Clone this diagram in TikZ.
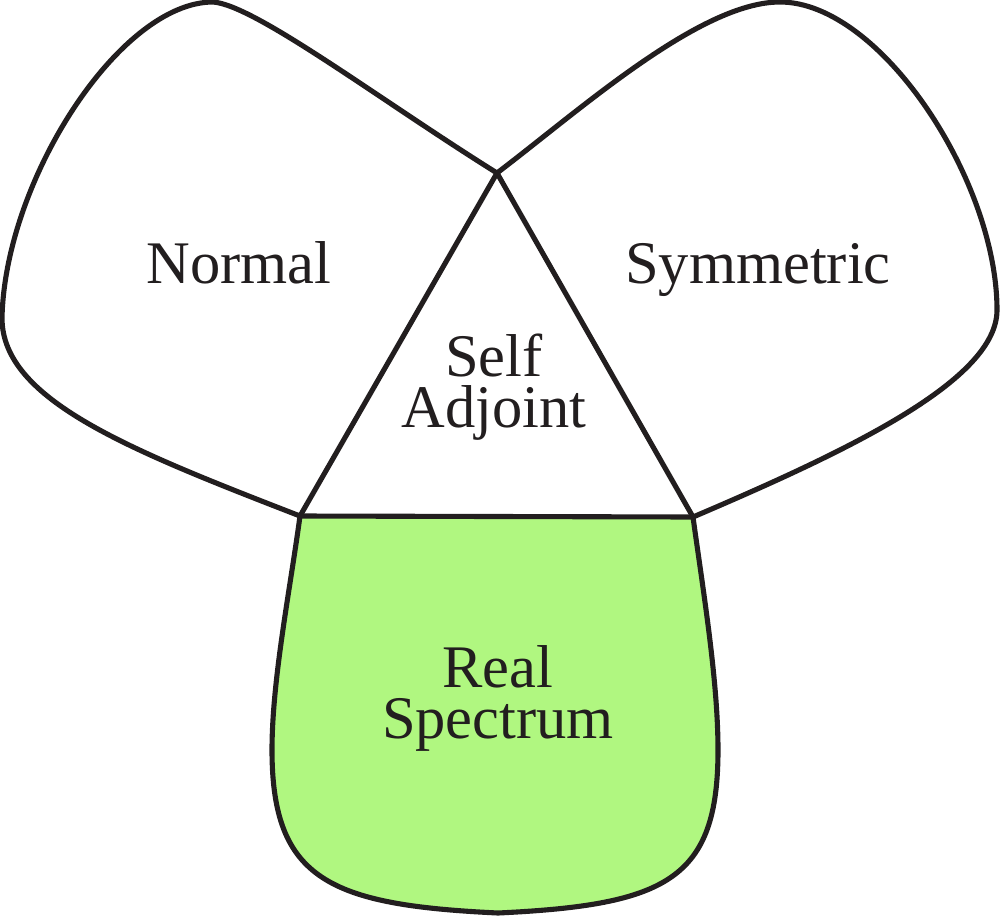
\documentclass[tikz,border=0pt]{standalone}
\usepackage{fontspec}
\setmainfont{Liberation Serif}
\newfontfamily\timesfont{Liberation Serif}
\definecolor{ink}{RGB}{34,30,31}
\definecolor{realgreen}{RGB}{176,247,128}
\begin{document}
\begin{tikzpicture}[x=0.01cm,y=-0.01cm,
  lobe/.style={draw=ink,line width=1.45pt,line join=round},
  lbl/.style={text=ink,font=\timesfont\fontsize{17.2}{14.4}\selectfont,align=center,anchor=base,inner sep=0pt}]
\useasboundingbox (0,0) rectangle (1000,918);
\coordinate (T) at (497,173);
\coordinate (BL) at (300,516);
\coordinate (BR) at (693,517);
% bottom lobe (green)
\path[lobe,fill=realgreen] (BL) .. controls (290,590) and (272,680) .. (272,750)
  .. controls (272,880) and (330,905) .. (498,913)
  .. controls (666,905) and (718,880) .. (718,750)
  .. controls (718,680) and (703,590) .. (BR) -- cycle;
% left lobe
\path[lobe] (BL) .. controls (130,450) and (2,400) .. (2,318)
  .. controls (5,180) and (120,2) .. (213,2)
  .. controls (255,5) and (380,100) .. (T) -- cycle;
% right lobe
\path[lobe] (T) .. controls (580,110) and (700,2) .. (780,2)
  .. controls (880,2) and (997,180) .. (997,310)
  .. controls (997,380) and (850,450) .. (BR) -- cycle;
% labels
\node[lbl] (normal) at (239,283) {Normal};
\node[lbl] (symm) at (758,283) {Symmetric};
\node[lbl] (selfadj) at (494,427) {Self\\Adjoint};
\node[lbl] (real) at (498,738) {Real\\Spectrum};
\end{tikzpicture}
\end{document}
